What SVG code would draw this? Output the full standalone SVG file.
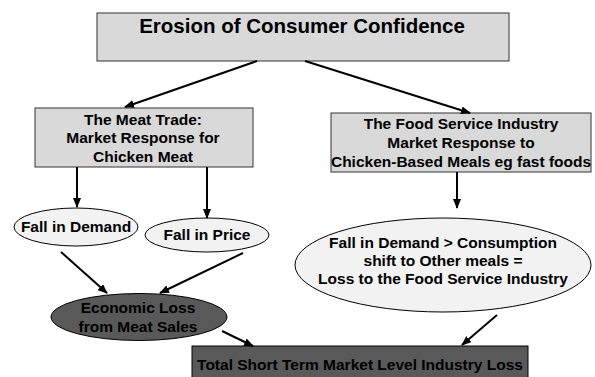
<svg xmlns="http://www.w3.org/2000/svg" width="595" height="377" viewBox="0 0 595 377">
<style>
text{font-family:"Liberation Sans",Arial,sans-serif;font-weight:bold;fill:#000;text-anchor:middle;font-size:15.5px}
.box{fill:#d9d9d9;stroke:#333;stroke-width:1}
.ell{fill:#f2f2f2;stroke:#000;stroke-width:1}
.dark{fill:#595959;stroke:#000;stroke-width:1}
.c{stroke:#000;stroke-width:2;fill:none;marker-end:url(#ah)}
</style>
<defs>
<marker id="ah" markerWidth="10" markerHeight="8" refX="9" refY="4" orient="auto" markerUnits="userSpaceOnUse">
<path d="M0,0 L10,4 L0,8 z" fill="#000"/>
</marker>
</defs>
<rect width="595" height="377" fill="#fff"/>
<g id="n-erosion">
<rect class="box" x="97" y="13" width="412" height="48"/>
<text x="302" y="33" style="font-size:20.5px">Erosion of Consumer Confidence</text>
</g>
<g id="n-meat">
<rect class="box" x="35" y="108" width="218" height="59"/>
<text x="143" y="125">The Meat Trade:</text>
<text x="143" y="143">Market Response for</text>
<text x="143" y="162">Chicken Meat</text>
</g>
<g id="n-food">
<rect class="box" x="331" y="113" width="260" height="59"/>
<text x="461" y="129">The Food Service Industry</text>
<text x="461" y="148">Market Response to</text>
<text x="461" y="167">Chicken-Based Meals eg fast foods</text>
</g>
<g id="n-demand">
<ellipse class="ell" cx="76" cy="227" rx="62" ry="19"/>
<text x="76" y="232">Fall in Demand</text>
</g>
<g id="n-price">
<ellipse class="ell" cx="207" cy="235" rx="62" ry="17"/>
<text x="207" y="240">Fall in Price</text>
</g>
<g id="n-shift">
<ellipse class="ell" cx="443" cy="265" rx="148" ry="47"/>
<text x="443" y="248">Fall in Demand &gt; Consumption</text>
<text x="443" y="266">shift to Other meals =</text>
<text x="443" y="284">Loss to the Food Service Industry</text>
</g>
<g id="n-econ">
<ellipse class="dark" cx="139" cy="317" rx="88" ry="23.5"/>
<text x="138" y="313">Economic Loss</text>
<text x="138" y="332">from Meat Sales</text>
</g>
<g id="n-total">
<rect class="dark" x="192" y="346" width="336" height="40"/>
<text x="360" y="370">Total Short Term Market Level Industry Loss</text>
</g>
<g id="connectors">
<line class="c" x1="257" y1="61" x2="125" y2="107"/>
<line class="c" x1="305" y1="61" x2="470" y2="113"/>
<line class="c" x1="77" y1="167" x2="77" y2="207"/>
<line class="c" x1="207" y1="167" x2="207" y2="218"/>
<line class="c" x1="457" y1="172" x2="457" y2="208"/>
<line class="c" x1="61" y1="252" x2="107" y2="293"/>
<line class="c" x1="243" y1="253" x2="160" y2="293"/>
<line class="c" x1="222" y1="331" x2="253" y2="346"/>
<line class="c" x1="497" y1="315" x2="462" y2="345"/>
</g>
</svg>
